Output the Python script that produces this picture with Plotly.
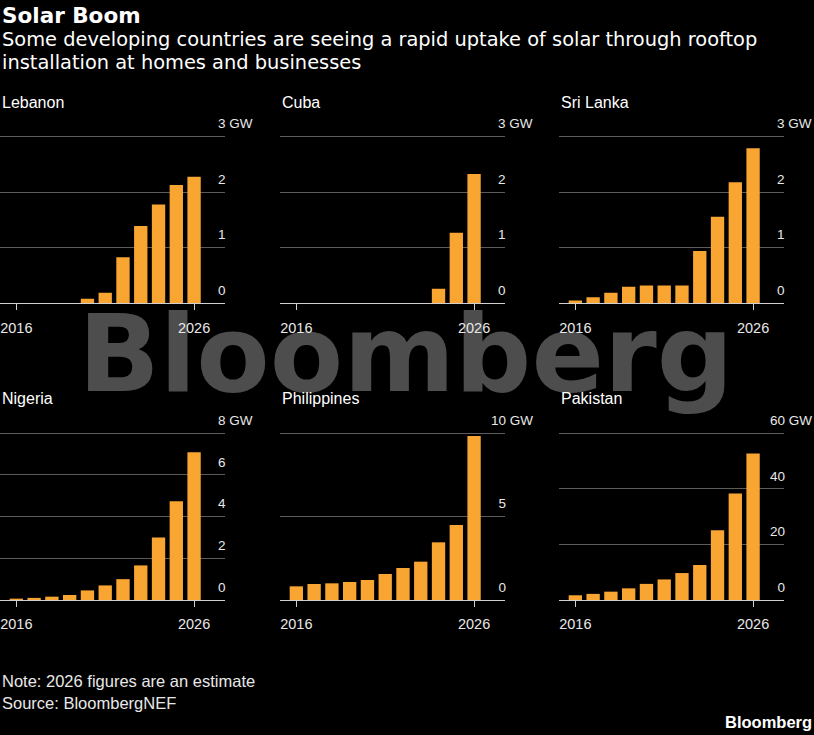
import plotly.graph_objects as go

years = list(range(2016, 2027))

countries = ["Lebanon", "Cuba", "Sri Lanka", "Nigeria", "Philippines", "Pakistan"]

lebanon = [0, 0, 0, 0, 0.08, 0.19, 0.83, 1.39, 1.78, 2.13, 2.28]
cuba = [0, 0, 0, 0, 0, 0, 0, 0, 0.26, 1.27, 2.33]
sri_lanka = [0.05, 0.11, 0.19, 0.30, 0.32, 0.32, 0.32, 0.94, 1.56, 2.18, 2.79]
nigeria = [0.06, 0.10, 0.16, 0.24, 0.46, 0.70, 1.0, 1.66, 3.0, 4.74, 7.09]
philippines = [0.82, 0.96, 1.0, 1.08, 1.2, 1.56, 1.92, 2.3, 3.46, 4.5, 9.84]
pakistan = [1.7, 2.2, 3.0, 4.2, 5.8, 7.4, 9.7, 12.6, 25.1, 38.3, 52.7]

series = [lebanon, cuba, sri_lanka, nigeria, philippines, pakistan]

y_ticks = [
    [0, 1, 2, 3],
    [0, 1, 2, 3],
    [0, 1, 2, 3],
    [0, 2, 4, 6, 8],
    [0, 5, 10],
    [0, 20, 40, 60],
]

W, H = 814, 735
ORANGE = "#f9a532"
GRID = "#5c5c5c"
FONT = "Liberation Sans, Arial, sans-serif"
HEAD = 1.01  # a little headroom so the top gridline is drawn

col_left = [0, 280, 559]
col_width = 225
row_zero = [303.3, 600]
row_top = [136.7, 433.3]
title_y = [102, 399]


def tick_labels(ticks):
    # numbers line up on the right, the unit hangs off the top one
    digits = len(str(ticks[-1]))
    out = ["\u00a0\u00a0" * (digits - len(str(t))) + str(t) for t in ticks]
    out[-1] += " GW"
    return out


fig = go.Figure()

# watermark on its own full-page subplot, drawn first so the panels sit on top
fig.add_trace(go.Scatter(
    x=[0.4985], y=[0.505], mode="text", text=["Bloomberg"],
    textfont=dict(family="DejaVu Sans", size=107, color="#4d4d4d", weight="bold"),
    hoverinfo="skip", showlegend=False, xaxis="x", yaxis="y", cliponaxis=False,
))
fig.update_layout(
    xaxis=dict(domain=[0, 1], range=[0, 1], visible=False, automargin=False),
    yaxis=dict(domain=[0, 1], range=[0, 1], visible=False, automargin=False),
)

annotations = []
for i, (name, vals, ticks) in enumerate(zip(countries, series, y_ticks)):
    r, c = divmod(i, 3)
    n = i + 2
    fig.add_trace(go.Bar(
        x=years, y=vals, marker_color=ORANGE, marker_line_width=0,
        xaxis=f"x{n}", yaxis=f"y{n}", showlegend=False,
    ))
    x0 = col_left[c] / W
    x1 = (col_left[c] + col_width) / W
    zero, top = row_zero[r], row_top[r]
    y0 = 1 - zero / H
    y1 = 1 - (zero - (zero - top) * HEAD) / H
    fig.layout[f"xaxis{n}"] = dict(
        domain=[x0, x1], anchor=f"y{n}", range=[2015.08, 2027.74],
        tickvals=[2016, 2026], ticktext=["2016", "2026"],
        ticks="outside", ticklen=6, tickwidth=1, tickcolor="#d0d0d0",
        showline=True, linecolor="#d0d0d0", linewidth=1,
        showgrid=False, zeroline=False, ticklabeloverflow="allow",
        ticklabelstandoff=5, automargin=False,
        tickfont=dict(family=FONT, size=14.5, color="#e8e8e8"),
    )
    fig.layout[f"yaxis{n}"] = dict(
        domain=[y0, y1], anchor=f"x{n}", side="right", range=[0, ticks[-1] * HEAD],
        tickvals=ticks, ticktext=tick_labels(ticks),
        showgrid=True, gridcolor=GRID, gridwidth=1, zeroline=False,
        showline=False, ticks="", ticklabeloverflow="allow", automargin=False,
        ticklabelshift=-13, ticklabelstandoff=-8 if ticks[-1] < 10 else -15,
        tickfont=dict(family=FONT, size=13.5, color="#e8e8e8"),
    )
    annotations.append(dict(
        text=name, x=x0, y=1 - title_y[r] / H, xref="paper", yref="paper",
        xanchor="left", yanchor="middle", showarrow=False,
        font=dict(family=FONT, size=16, color="#ffffff"),
    ))

annotations += [
    dict(text="<b>Solar Boom</b>", x=0, y=1 - 15 / H, xref="paper", yref="paper",
         xanchor="left", yanchor="middle", showarrow=False,
         font=dict(family="DejaVu Sans", size=21.5, color="#ffffff")),
    dict(text="Some developing countries are seeing a rapid uptake of solar through rooftop",
         x=0, y=1 - 39.5 / H, xref="paper", yref="paper",
         xanchor="left", yanchor="middle", showarrow=False,
         font=dict(family="DejaVu Sans", size=19.4, color="#ffffff")),
    dict(text="installation at homes and businesses",
         x=0, y=1 - 62.5 / H, xref="paper", yref="paper",
         xanchor="left", yanchor="middle", showarrow=False,
         font=dict(family="DejaVu Sans", size=19.4, color="#ffffff")),
    dict(text="Note: 2026 figures are an estimate", x=0, y=1 - 681 / H,
         xref="paper", yref="paper", xanchor="left", yanchor="middle", showarrow=False,
         font=dict(family=FONT, size=16.5, color="#e8e8e8")),
    dict(text="Source: BloombergNEF", x=0, y=1 - 703 / H,
         xref="paper", yref="paper", xanchor="left", yanchor="middle", showarrow=False,
         font=dict(family=FONT, size=16.5, color="#e8e8e8")),
    dict(text="<b>Bloomberg</b>", x=1, y=1 - 722 / H,
         xref="paper", yref="paper", xanchor="right", yanchor="middle", showarrow=False,
         font=dict(family=FONT, size=16.5, color="#ffffff")),
]

fig.update_layout(
    width=W, height=H, margin=dict(l=0, r=0, t=0, b=0, autoexpand=False),
    paper_bgcolor="#000000", plot_bgcolor="rgba(0,0,0,0)",
    bargap=0.25, showlegend=False, annotations=annotations,
)

fig.write_html(
    "out.html",
    config={"displayModeBar": False},
    post_script="document.body.style.margin='0';document.body.style.background='#000';",
)
